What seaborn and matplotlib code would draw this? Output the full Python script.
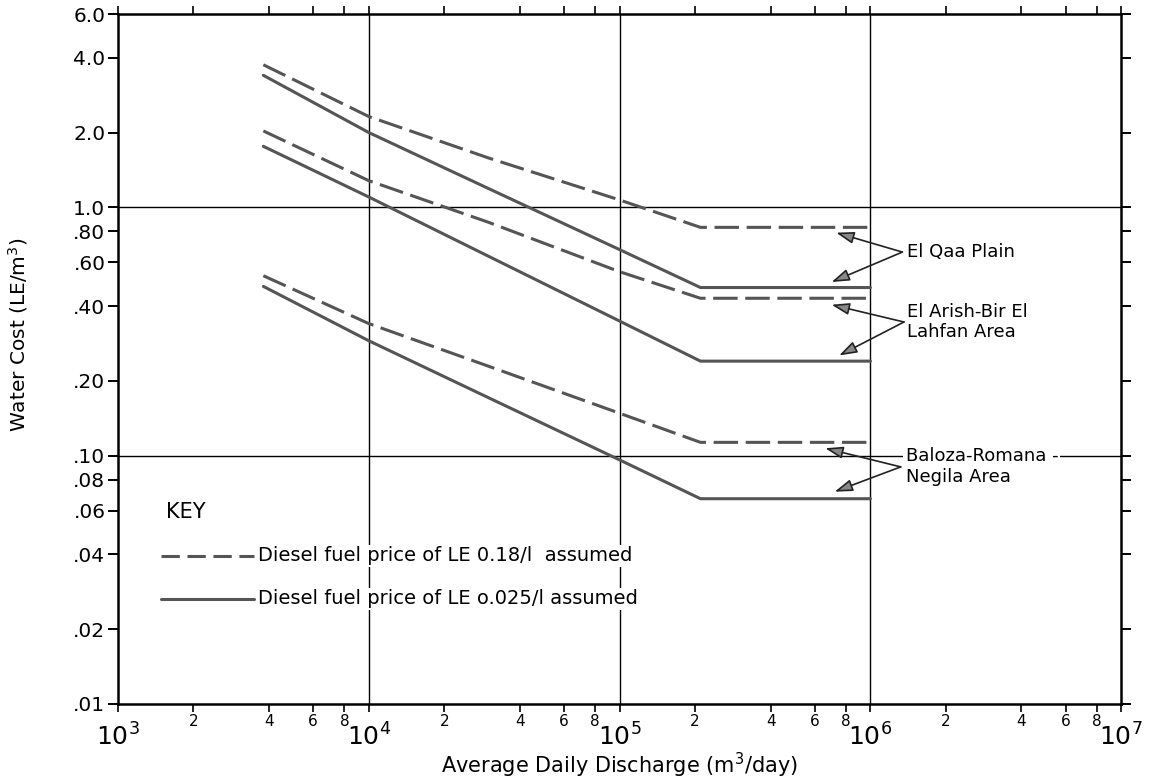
import numpy as np
import pandas as pd
import matplotlib
matplotlib.use("Agg")
import matplotlib.pyplot as plt
import seaborn as sns

# Discharge points (m3/day) at which each cost curve is defined
discharge = [3.8e3, 1e4, 3e4, 1e5, 2.1e5, 1e6]

# Water cost (LE/m3) for each area, high and low diesel price
qaa_high = [3.75, 2.32, 1.58, 1.07, 0.83, 0.83]
qaa_low = [3.40, 2.00, 1.19, 0.675, 0.475, 0.475]
arish_high = [2.03, 1.28, 0.87, 0.55, 0.43, 0.43]
arish_low = [1.76, 1.10, 0.635, 0.348, 0.24, 0.24]
baloza_high = [0.53, 0.34, 0.229, 0.148, 0.113, 0.113]
baloza_low = [0.48, 0.29, 0.171, 0.096, 0.067, 0.067]

areas = ["El Qaa Plain", "El Arish-Bir El\nLahfan Area", "Baloza-Romana -\nNegila Area"]
fuel_labels = ["Diesel fuel price of LE 0.18/l  assumed",
               "Diesel fuel price of LE o.025/l assumed"]

y_ticks = [6.0, 4.0, 2.0, 1.0, 0.8, 0.6, 0.4, 0.2, 0.1, 0.08, 0.06, 0.04, 0.02, 0.01]
y_tick_labels = ["6.0", "4.0", "2.0", "1.0", ".80", ".60", ".40", ".20",
                 ".10", ".08", ".06", ".04", ".02", ".01"]
x_major = [1e3, 1e4, 1e5, 1e6, 1e7]
x_major_labels = ["$10^3$", "$10^4$", "$10^5$", "$10^6$", "$10^7$"]
x_minor_mult = [2, 4, 6, 8]

series = [
    (areas[0], "high", qaa_high), (areas[0], "low", qaa_low),
    (areas[1], "high", arish_high), (areas[1], "low", arish_low),
    (areas[2], "high", baloza_high), (areas[2], "low", baloza_low),
]
rows = []
for area, fuel, vals in series:
    for q, c in zip(discharge, vals):
        rows.append({"area": area, "fuel": fuel, "discharge": q, "cost": c})
df = pd.DataFrame(rows)

sns.set_theme(style="white")
plt.rcParams["font.family"] = ["DejaVu Sans"]
plt.rcParams["mathtext.fontset"] = "dejavusans"
for key in ["text.color", "axes.labelcolor", "xtick.color", "ytick.color"]:
    plt.rcParams[key] = "black"

fig = plt.figure(figsize=(11.56, 7.82), dpi=100)
ax = fig.add_axes([0.102, 0.100, 0.868, 0.882])

line_color = "#555555"
dash_style = (0, (8, 2.5))
for (area, fuel), sub in df.groupby(["area", "fuel"], sort=False):
    ls = dash_style if fuel == "high" else "-"
    sns.lineplot(data=sub, x="discharge", y="cost", ax=ax, color=line_color,
                 lw=2.2, linestyle=ls, legend=False, estimator=None)

ax.set_xscale("log")
ax.set_yscale("log")
ax.set_xlim(1e3, 1e7)
ax.set_ylim(0.01, 6.0)

# grid at decades
for v in [1e4, 1e5, 1e6]:
    ax.axvline(v, color="black", lw=1.0, zorder=0)
for v in [1.0, 0.1]:
    ax.axhline(v, color="black", lw=1.0, zorder=0)

# y ticks on both sides
ax.set_yticks(y_ticks)
ax.set_yticklabels(y_tick_labels, fontsize=14.5)
ax.yaxis.set_minor_locator(matplotlib.ticker.NullLocator())
ax.tick_params(axis="y", which="major", direction="out", length=7, width=1.4,
               left=True, right=True, pad=2, color="black")

# x ticks: decades labelled large, intermediate multiples small
ax.set_xticks(x_major)
ax.set_xticklabels(x_major_labels, fontsize=18)
minor_pos = [m * d for d in [1e3, 1e4, 1e5, 1e6] for m in x_minor_mult]
ax.set_xticks(minor_pos, minor=True)
ax.set_xticklabels([str(m) for d in range(4) for m in x_minor_mult], minor=True, fontsize=11)
ax.tick_params(axis="x", which="major", direction="out", length=6, width=1.2,
               bottom=True, top=True, pad=8, color="black")
ax.tick_params(axis="x", which="minor", direction="out", length=6, width=1.2,
               bottom=True, top=True, pad=1, color="black")

for s in ax.spines.values():
    s.set_color("black")
    s.set_linewidth(1.8)

ax.set_xlabel("Average Daily Discharge (m$^3$/day)", fontsize=15, labelpad=0)
ax.set_ylabel("Water Cost (LE/m$^3$)", fontsize=14.5)
ax.yaxis.set_label_coords(-0.088, 0.535)

# area labels with pointers to their curves
arrow_kw = dict(arrowstyle="-|>,head_length=0.9,head_width=0.3", color="#222222",
                lw=1.2, shrinkA=0, shrinkB=0, fc="#888888")
labels = [
    (areas[0], (1.40e6, 0.66), (1.34e6, 0.66), [(7.3e5, 0.79), (7.0e5, 0.50)]),
    (areas[1], (1.40e6, 0.345), (1.36e6, 0.345), [(7.0e5, 0.405), (7.5e5, 0.253)]),
    (areas[2], (1.38e6, 0.09), (1.32e6, 0.09), [(6.6e5, 0.107), (7.2e5, 0.0715)]),
]
for text, tpos, tail, heads in labels:
    ax.text(tpos[0], tpos[1], text, fontsize=13, ha="left", va="center",
            linespacing=1.2, zorder=5,
            bbox=dict(facecolor="white", edgecolor="none", pad=1.5))
    for h in heads:
        ax.annotate("", xy=h, xytext=tail, arrowprops=arrow_kw, zorder=6)

# key
ax.text(1.55e3, 0.059, "KEY", fontsize=15, ha="left", va="center")
key_y = [0.0395, 0.0265]
key_styles = [(0, (6, 2.5)), "-"]
for yk, st, lab in zip(key_y, key_styles, fuel_labels):
    ax.plot([1.48e3, 3.5e3], [yk, yk], color=line_color, lw=2.2, linestyle=st)
    ax.text(3.62e3, yk, lab, fontsize=14, ha="left", va="center", zorder=5,
            bbox=dict(facecolor="white", edgecolor="none", pad=1.0))

fig.savefig("out.png", dpi=100)
